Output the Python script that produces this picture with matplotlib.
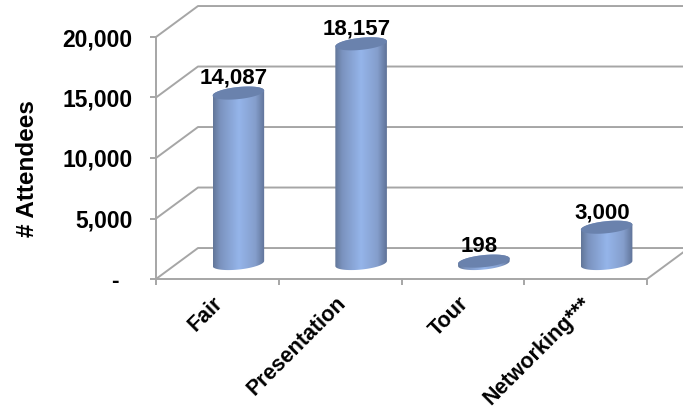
"""Attendance per event type, drawn as a 3D-look cylinder column chart."""

import matplotlib
matplotlib.use("Agg")
import matplotlib.pyplot as plt
import numpy as np
from matplotlib.colors import LinearSegmentedColormap
from matplotlib.patches import PathPatch, Polygon
from matplotlib.path import Path
from matplotlib.ticker import FuncFormatter

categories = ["Fair", "Presentation", "Tour", "Networking***"]
attendees = [14087, 18157, 198, 3000]
y_ticks = [0, 5000, 10000, 15000, 20000]

plt.rcParams["font.family"] = ["Liberation Sans", "DejaVu Sans"]
plt.rcParams["font.weight"] = "bold"

GRID = "#a6a6a6"
TOP = "#6a82ad"
LINE = 1.4

# wall depth and cylinder shape, in data units
DEPTH_X = 0.342
DEPTH_Y = 2560
RADIUS_X = 0.21
RADIUS_Y = 500
TILT = 0.42

side_cmap = LinearSegmentedColormap.from_list(
    "side",
    [(0, "#627699"), (0.14, "#7b93bf"), (0.5, "#95b5ea"), (0.82, "#859ecc"), (1, "#5f7398")],
)


def rim(cx, cy, t):
    x = cx + RADIUS_X * np.cos(t)
    y = cy + RADIUS_Y * np.sin(t) + TILT * RADIUS_Y * np.cos(t)
    return np.column_stack([x, y])


fig = plt.figure(figsize=(6.83, 4.09), dpi=100)
ax = fig.add_axes([156 / 683, 1 - 279 / 409, (647 - 156) / 683, (279 - 37) / 409])
xlim = (0, len(categories))
ylim = (0, y_ticks[-1])

# Side wall and back wall gridlines
for v in y_ticks:
    ax.plot([0, DEPTH_X, xlim[1] + DEPTH_X], [v, v + DEPTH_Y, v + DEPTH_Y],
            color=GRID, lw=LINE, clip_on=False, zorder=1)
ax.plot([xlim[1], xlim[1] + DEPTH_X], [0, DEPTH_Y], color=GRID, lw=LINE, clip_on=False, zorder=1)

# Cylinders
gradient = np.linspace(0, 1, 128).reshape(1, -1)
for i, (name, value) in enumerate(zip(categories, attendees)):
    cx = i + 0.5 + DEPTH_X / 2
    base = DEPTH_Y / 2
    top = base + value
    outline = np.vstack([
        rim(cx, base, np.linspace(np.pi, 2 * np.pi, 40)),
        rim(cx, top, np.linspace(0, np.pi, 40)),
    ])
    img = ax.imshow(gradient, cmap=side_cmap, aspect="auto", zorder=3, clip_on=True,
                    extent=(cx - RADIUS_X, cx + RADIUS_X, base - 1000, top + 1000))
    clip = PathPatch(Path(np.vstack([outline, outline[0]])), transform=ax.transData)
    img.set_clip_path(clip)
    ax.add_patch(Polygon(rim(cx, top, np.linspace(0, 2 * np.pi, 80)), closed=True,
                         facecolor=TOP, edgecolor="none", zorder=4, clip_on=False))
    ax.annotate(f"{value:,}", xy=(cx, top), xytext=(-3.5, 3), textcoords="offset points",
                ha="center", va="bottom", fontsize=16, fontweight="bold",
                color="black", zorder=5, annotation_clip=False)

ax.set_xlim(xlim)
ax.set_ylim(ylim)
ax.patch.set_visible(False)

for side in ["top", "right"]:
    ax.spines[side].set_visible(False)
for side in ["left", "bottom"]:
    ax.spines[side].set_color(GRID)
    ax.spines[side].set_linewidth(LINE)

ax.set_yticks(y_ticks)
ax.yaxis.set_major_formatter(FuncFormatter(lambda v, _: f"{v:,.0f}" if v else "-  "))
ax.tick_params(axis="y", length=4, color=GRID, width=LINE, pad=13, labelsize=16.5)

ax.set_xticks(range(len(categories) + 1))
ax.set_xticklabels([])
ax.tick_params(axis="x", length=4, color=GRID, width=LINE)

# Category labels sit under the cylinders, rotated
for i, name in enumerate(categories):
    ax.annotate(name, xy=(i + 0.5, 0), xytext=(-3.5, -10), textcoords="offset points",
                rotation=45, rotation_mode="anchor", ha="right", va="top",
                fontsize=15.5, fontweight="bold", annotation_clip=False)

fig.text(28 / 683, 1 - 169 / 409, "# Attendees", rotation=90, ha="center", va="center",
         fontsize=17.5, fontweight="bold")

fig.savefig("out.png", dpi=100)
plt.close(fig)
